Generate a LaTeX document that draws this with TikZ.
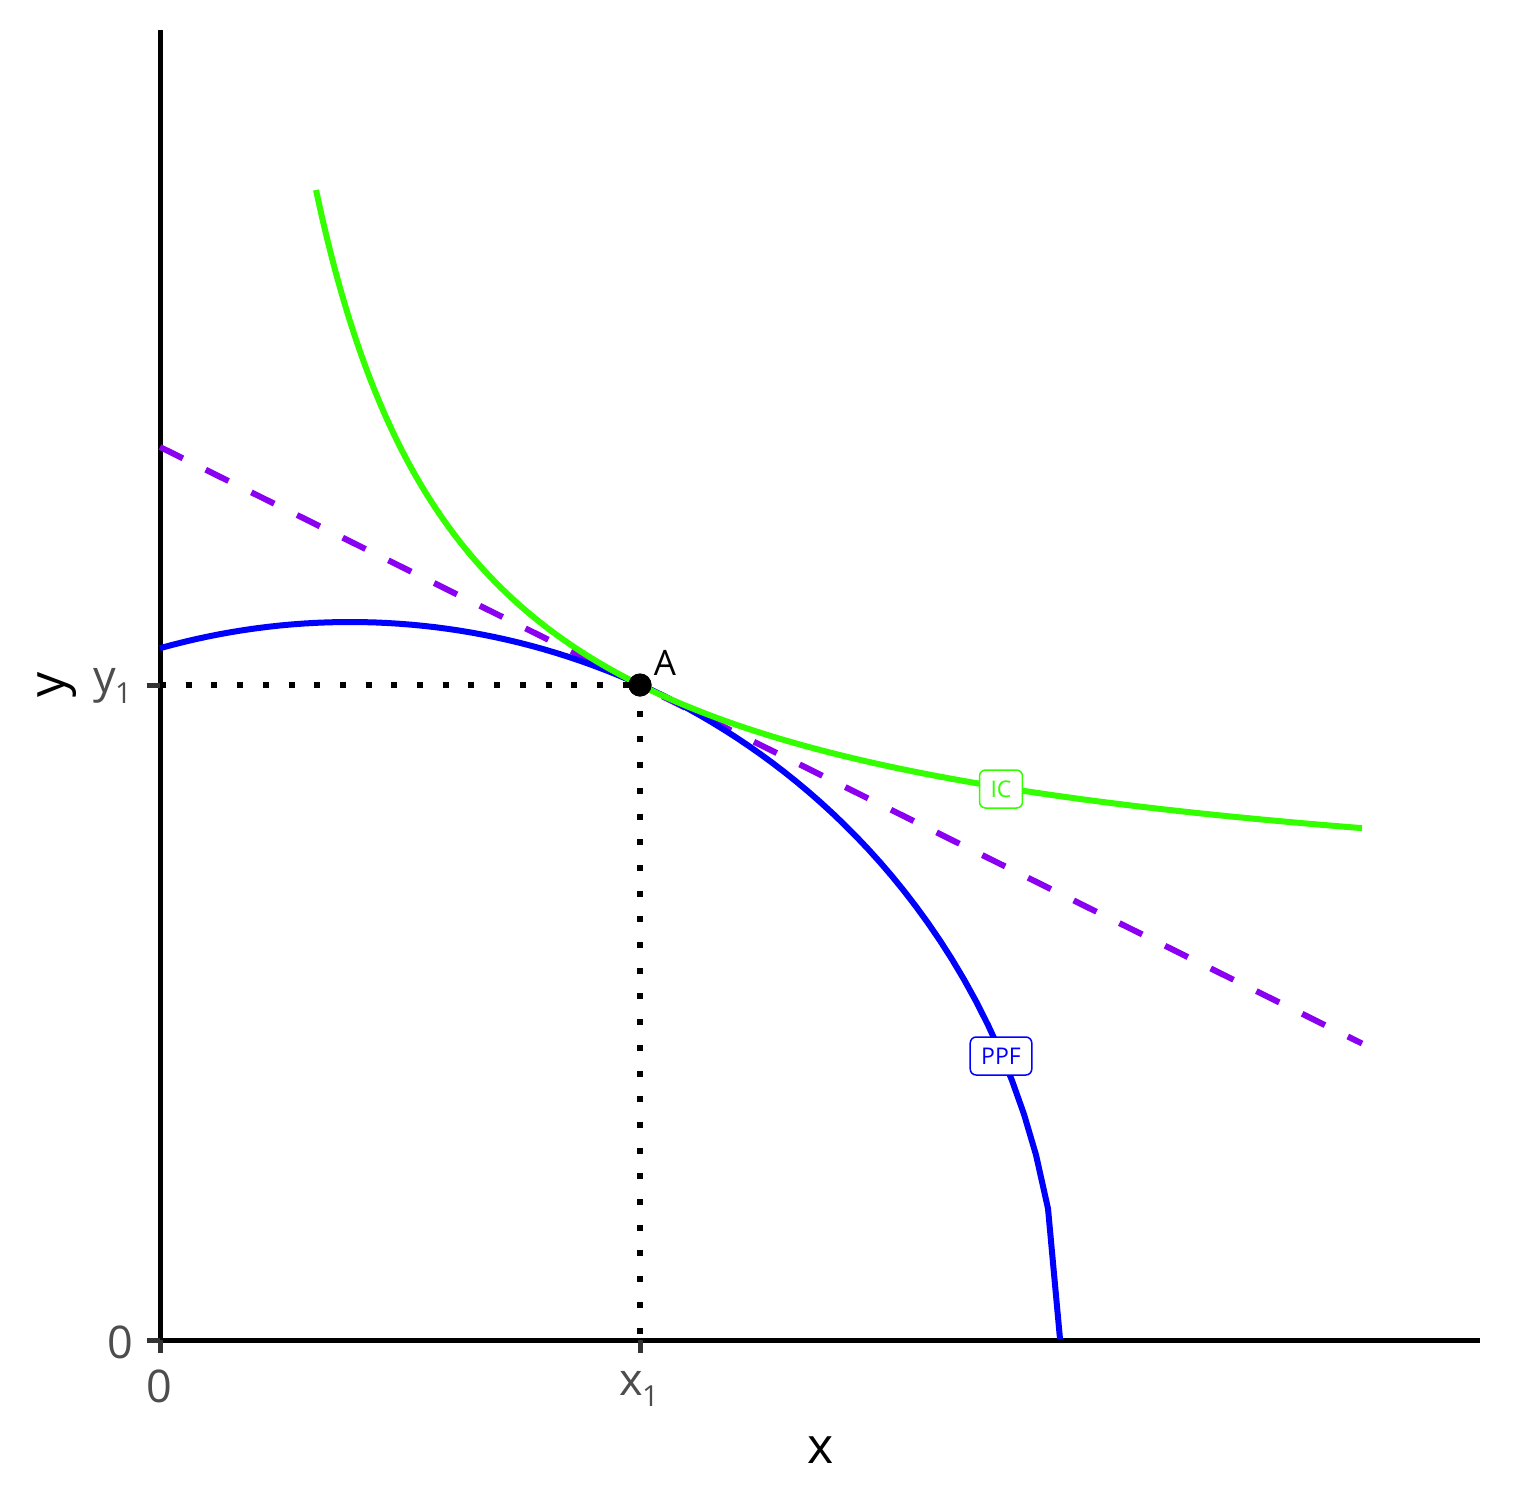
\documentclass[tikz,border=0pt]{standalone}
\usepackage{fontspec}
\setmainfont{Open Sans}
\definecolor{icgreen}{HTML}{33FF00}
\definecolor{budget}{HTML}{8B00F0}
\definecolor{ticklab}{HTML}{4D4D4D}
\definecolor{tickcol}{HTML}{333333}
\newcommand{\subone}[1]{\kern-1pt\raisebox{-11pt}{\fontsize{29}{29}\selectfont #1}}
\tikzset{
  axisline/.style={line width=5pt, black},
  tickmark/.style={line width=5pt, tickcol},
  ticklabel/.style={font=\fontsize{45}{45}\selectfont, text=ticklab, inner sep=0pt},
  axistitle/.style={font=\fontsize{50}{50}\selectfont, text=black, inner sep=0pt},
  ppfcurve/.style={line width=6pt, blue, line join=round},
  iccurve/.style={line width=6pt, icgreen},
  budgetline/.style={line width=6pt, budget, dash pattern=on 25.5pt off 25.5pt},
  guide/.style={line width=6pt, black, dash pattern=on 6pt off 19.7pt},
  curvelabel/.style={draw, line width=1.5pt, fill=white, rounded corners=6pt,
    font=\fontsize{23}{23}\selectfont, inner xsep=11pt, inner ysep=0pt, minimum height=38pt},
  pointdot/.style={circle, fill=black, inner sep=0pt, minimum size=23pt},
}
\begin{document}
\begin{tikzpicture}[x=1pt,y=-1pt]
\useasboundingbox (0,0) rectangle (1512,1512);
% axes
\coordinate (O) at (160,1340);
\coordinate (Ytop) at (160,30);
\coordinate (Xend) at (1480,1340);
\coordinate (Y1) at (160,685);
\coordinate (X1) at (640,1340);
\draw[axisline] (Ytop) -- (O.center) -- (Xend);
% ticks
\draw[tickmark] (O) -- ++(-13,0);
\draw[tickmark] (Y1) -- ++(-13,0);
\draw[tickmark] (O) -- ++(0,13);
\draw[tickmark] (X1) -- ++(0,13);
% tick labels
\node[ticklabel, anchor=base east] (ly0) at (133,1358) {0};
\node[ticklabel, anchor=base east] (ly1) at (132,692) {y\subone{1}};
\node[ticklabel, anchor=base] (lx0) at (159.5,1402) {0};
\node[ticklabel, anchor=base] (lx1) at (639,1395) {x\subone{1}};
% axis titles
\node[axistitle, anchor=base] (tx) at (821,1463) {x};
\node[axistitle, rotate=90, anchor=base] (ty) at (64,685) {y};
% budget line
\coordinate (L0) at (160,447);
\coordinate (L1) at (1362,1043.5);
\draw[budgetline] (L0) -- (L1);
% PPF
\draw[ppfcurve] plot[domain=0:900, samples=76]
  ({160+\x},{1340-7.18*sqrt(max(0,10000-((\x-190)/7.1)^2))});
% IC
\draw[iccurve] plot[domain=156:1202, samples=160, smooth]
  ({160+\x},{1340-(416.7+1144/(\x/100))});
% point A and guides
\node[pointdot] (A) at (640,685) {};
\draw[guide] (Y1) -- (A.center);
\draw[guide] (A.center) -- (X1);
\node[pointdot] at (A) {};
\node[font=\fontsize{35}{35}\selectfont, inner sep=0pt, anchor=base] (lA) at (665,675) {A};
% curve labels
\node[curvelabel, draw=icgreen, text=icgreen] (lic) at (1001,789) {IC};
\node[curvelabel, draw=blue, text=blue] (lppf) at (1001,1056) {PPF};
\end{tikzpicture}
\end{document}
